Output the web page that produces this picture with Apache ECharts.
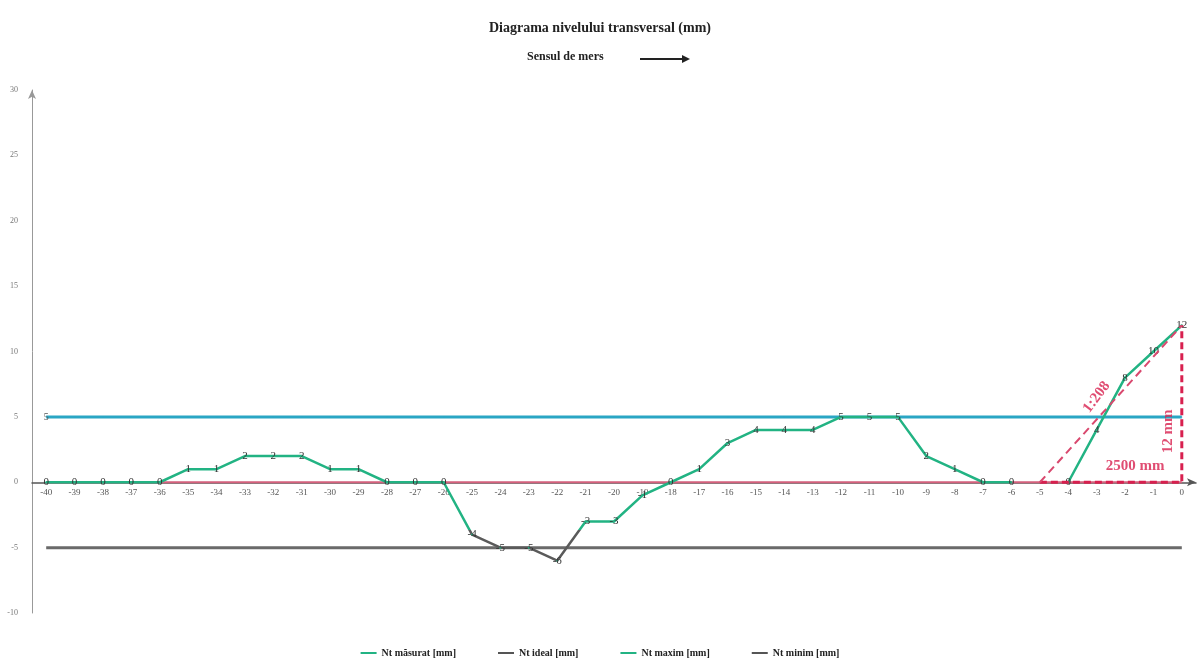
<!DOCTYPE html>
<html>
<head>
<meta charset="utf-8">
<script src="https://cdn.jsdelivr.net/npm/echarts@6/dist/echarts.min.js"></script>
<style>html,body{margin:0;padding:0;background:#fff}#c{width:1200px;height:660px}</style>
</head>
<body>
<div id="c"></div>
<script>
const categories = ['-40','-39','-38','-37','-36','-35','-34','-33','-32','-31','-30','-29','-28','-27','-26','-25','-24','-23','-22','-21','-20','-19','-18','-17','-16','-15','-14','-13','-12','-11','-10','-9','-8','-7','-6','-5','-4','-3','-2','-1','0'];
const ntMasurat = [0,0,0,0,0,1,1,2,2,2,1,1,0,0,0,-4,-5,-5,-6,-3,-3,-1,0,1,3,4,4,4,5,5,5,2,1,0,0,null,0,4,8,10,12];
const ntIdeal = [0,0,0,0,0,0,0,0,0,0,0,0,0,0,0,0,0,0,0,0,0,0,0,0,0,0,0,0,0,0,0,0,0,0,0,0,0,0,0,0,0];
const ntMaxim = [5,5,5,5,5,5,5,5,5,5,5,5,5,5,5,5,5,5,5,5,5,5,5,5,5,5,5,5,5,5,5,5,5,5,5,5,5,5,5,5,5];
const ntMinim = [-5,-5,-5,-5,-5,-5,-5,-5,-5,-5,-5,-5,-5,-5,-5,-5,-5,-5,-5,-5,-5,-5,-5,-5,-5,-5,-5,-5,-5,-5,-5,-5,-5,-5,-5,-5,-5,-5,-5,-5,-5];
const yTicks = [-10,-5,0,5,10,15,20,25,30];
// slope annotation triangle (2500 mm run, 12 mm rise)
const triLegs = [['-5',0],['0',0],['0',12]];
const triHyp = [['-5',0],['0',12]];
const triTexts = [
  {name:'1:208', value:['-3',6.5], rot:53, off:[0,0]},
  {name:'12 mm', value:['0',3.9], rot:90, off:[0,-14]},
  {name:'2500 mm', value:['-2',1.2], rot:0, off:[10,0]}
];
const legendNames = ['Nt măsurat [mm]','Nt ideal [mm]','Nt maxim [mm]','Nt minim [mm]'];

const serif = 'Liberation Serif';
const red = '#d8204f';
const green = '#22b383';
const gray = '#5a5a5a';
// measured line: gray where the values drop below -3.5
const vals = ntMasurat.filter(v => v !== null);
const vMax = Math.max(...vals), vMin = Math.min(...vals);
const cut = (vMax - (-3.5)) / (vMax - vMin);
const measuredColor = new echarts.graphic.LinearGradient(0,0,0,1,[
  {offset:0,color:green},{offset:cut,color:green},{offset:cut,color:gray},{offset:1,color:gray}]);

const chart = echarts.init(document.getElementById('c'));
chart.setOption({
  backgroundColor:'#fff',
  animation:false,
  title:{text:'Diagrama nivelului transversal (mm)', left:'center', top:16,
    textStyle:{fontFamily:serif, fontWeight:'bold', fontSize:14, color:'#222'}},
  graphic:[
    {type:'text', left:527, top:51, style:{text:'Sensul de mers', font:'bold 12px "Liberation Serif"', fill:'#222'}},
    {type:'line', shape:{x1:640,y1:59,x2:684,y2:59}, style:{stroke:'#222', lineWidth:2}},
    {type:'polygon', shape:{points:[[682,55],[690,59],[682,63]]}, style:{fill:'#222'}}
  ],
  legend:{top:643, left:'center', itemWidth:16, itemHeight:2, itemGap:42,
    textStyle:{fontFamily:serif, fontSize:10, fontWeight:'bold', color:'#222'},
    data:[
      {name:legendNames[0], icon:'rect', itemStyle:{color:green}},
      {name:legendNames[1], icon:'rect', itemStyle:{color:'#555'}},
      {name:legendNames[2], icon:'rect', itemStyle:{color:green}},
      {name:legendNames[3], icon:'rect', itemStyle:{color:'#555'}}
    ]},
  grid:{left:32, right:4, top:90, bottom:47},
  xAxis:{type:'category', data:categories, boundaryGap:true, offset:0,
    axisLine:{onZero:false, symbol:['none','arrow'], symbolSize:[6,9], lineStyle:{color:'#555', width:1.5}},
    axisTick:{show:false},
    axisLabel:{interval:0, fontFamily:serif, fontSize:9, color:'#555', margin:6}},
  yAxis:{type:'value', min:-10, max:30, interval:5,
    axisLine:{show:true, symbol:['none','arrow'], symbolSize:[6,9], lineStyle:{color:'#999', width:1}},
    axisTick:{show:false}, splitLine:{show:false},
    axisLabel:{fontFamily:serif, fontSize:8, color:'#777', margin:14}},
  series:[
    {name:legendNames[0], type:'line', data:ntMasurat, z:5, connectNulls:false,
      symbol:'circle', symbolSize:2, lineStyle:{width:2.5, color:measuredColor}, itemStyle:{color:green},
      label:{show:true, position:'inside', fontFamily:serif, fontSize:11, color:'#333'}},
    {name:legendNames[1], type:'line', data:ntIdeal, z:3, symbol:'none',
      lineStyle:{width:2, color:'#d4607c'}, itemStyle:{color:'#d4607c'}},
    {name:legendNames[2], type:'line', data:ntMaxim, z:3, symbol:'circle', symbolSize:1,
      lineStyle:{width:3, color:'#2aa6c4'}, itemStyle:{color:'#2aa6c4'},
      label:{show:true, position:'inside', fontFamily:serif, fontSize:10, color:'#555',
        formatter:p=>p.dataIndex===0?String(p.value):''}},
    {name:legendNames[3], type:'line', data:ntMinim, z:3, symbol:'none',
      lineStyle:{width:3, color:'#6a6a6a'}, itemStyle:{color:'#6a6a6a'}},
    {name:'legs', type:'line', data:triLegs, z:6, symbol:'none',
      lineStyle:{width:3, type:[7,4], color:red}},
    {name:'hyp', type:'line', data:triHyp, z:6, symbol:'none',
      lineStyle:{width:2, type:[8,5], color:'#d9486e'}},
    {name:'texts', type:'scatter', data:triTexts.map(t=>({name:t.name, value:t.value,
        label:{rotate:t.rot, offset:t.off}})), symbolSize:0, z:7,
      label:{show:true, position:'inside', formatter:p=>p.name, fontFamily:serif,
        fontWeight:'bold', fontSize:15, color:red}}
  ]
});
// move the category axis (line + labels) up to the zero level of the value axis
const yZero = chart.convertToPixel({yAxisIndex:0}, 0);
const yBottom = chart.convertToPixel({yAxisIndex:0}, -10);
chart.setOption({xAxis:{offset: -(yBottom - yZero)}});
</script>
</body>
</html>
